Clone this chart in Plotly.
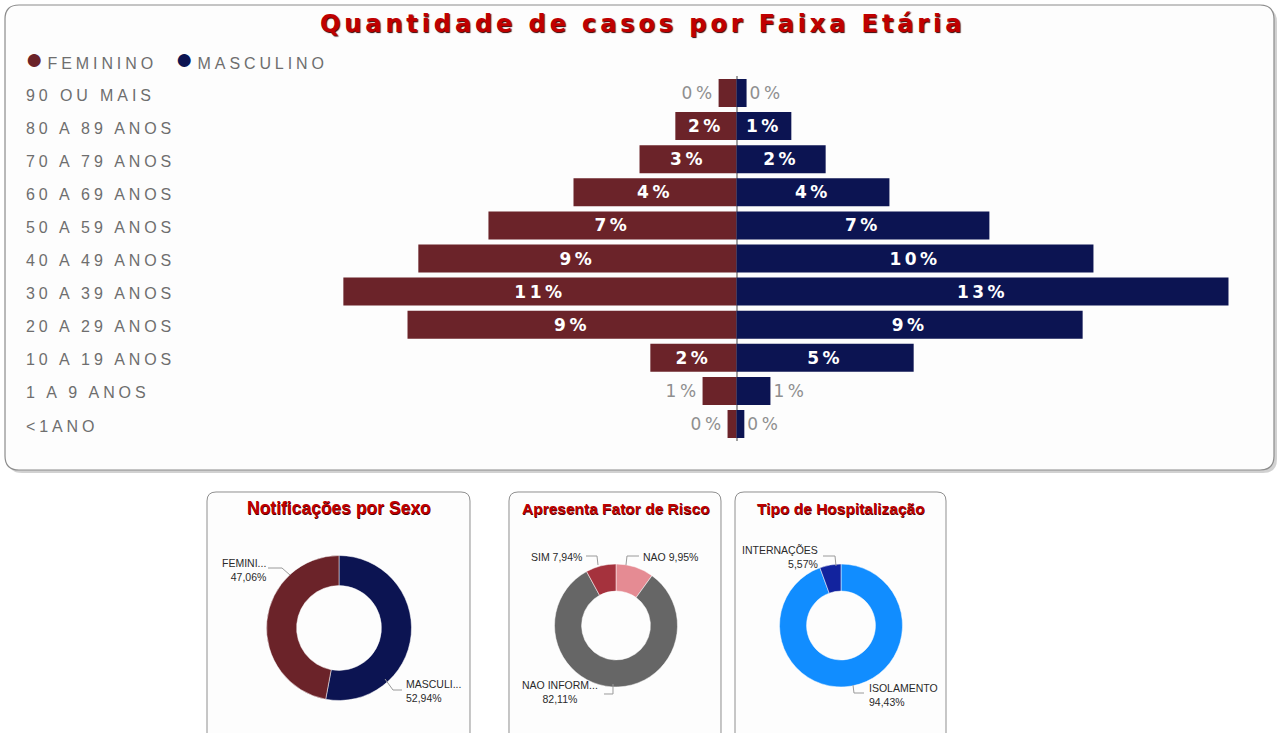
import plotly.graph_objects as go

W, H = 1277, 733

# ---------------- data ----------------
faixas = ["90 OU MAIS", "80 A 89 ANOS", "70 A 79 ANOS", "60 A 69 ANOS", "50 A 59 ANOS",
          "40 A 49 ANOS", "30 A 39 ANOS", "20 A 29 ANOS", "10 A 19 ANOS", "1 A 9 ANOS", "<1ANO"]
feminino = [0.48, 1.64, 2.60, 4.37, 6.65, 8.53, 10.54, 8.82, 2.31, 0.91, 0.24]
masculino = [0.27, 1.47, 2.39, 4.10, 6.78, 9.57, 13.19, 9.28, 4.75, 0.91, 0.21]

sexo_labels = ["MASCULINO", "FEMININO"]
sexo_display = ["MASCULI...", "FEMINI..."]
sexo_values = [52.94, 47.06]

risco_labels = ["NAO", "NAO INFORMADO", "SIM"]
risco_display = ["NAO", "NAO INFORM...", "SIM"]
risco_values = [9.95, 82.11, 7.94]

hosp_labels = ["ISOLAMENTO", "INTERNAÇÕES"]
hosp_display = ["ISOLAMENTO", "INTERNAÇÕES"]
hosp_values = [94.43, 5.57]

# ---------------- style ----------------
C_FEM = "#6b2329"
C_MAS = "#0c1452"
C_TITLE = "#c00000"
LBL = "#6e6e6e"


def px(x):
    return x / W


def py(y):
    return 1 - y / H


def P(x, y):
    return f"{px(x):.5f},{py(y):.5f}"


def rrect(x0, y0, x1, y1, r):
    return (f"M {P(x0 + r, y0)} L {P(x1 - r, y0)} Q {P(x1, y0)} {P(x1, y0 + r)} "
            f"L {P(x1, y1 - r)} Q {P(x1, y1)} {P(x1 - r, y1)} L {P(x0 + r, y1)} "
            f"Q {P(x0, y1)} {P(x0, y1 - r)} L {P(x0, y0 + r)} Q {P(x0, y0)} {P(x0 + r, y0)} Z")


def poly(pts):
    return "M " + " L ".join(P(x, y) for x, y in pts)


def sp(txt, ls):
    return f"<span style='letter-spacing:{ls}px'>{txt}</span>"


def pct(v):
    return f"{v:.2f}".replace(".", ",") + "%"


fig = go.Figure()

# ---------------- pyramid ----------------
THR = 1.4


def bar_text(vals):
    out = []
    for v in vals:
        t = sp(f"{round(v)}%", 3.5)
        out.append(f"<b>{t}</b>" if v >= THR else t)
    return out


def bar_pos(vals):
    return ["inside" if v >= THR else "outside" for v in vals]


for vals, sign, col, name in [(feminino, -1, C_FEM, "FEMININO"), (masculino, 1, C_MAS, "MASCULINO")]:
    fig.add_trace(go.Bar(
        y=faixas, x=[sign * v for v in vals], orientation="h", name=name,
        marker=dict(color=col, line=dict(width=0)),
        text=bar_text(vals), textposition=bar_pos(vals),
        insidetextanchor="middle", textangle=0, cliponaxis=False,
        insidetextfont=dict(color="white", size=17, family="DejaVu Sans"),
        outsidetextfont=dict(color="#8f8f8f", size=17, family="DejaVu Sans"),
        hoverinfo="skip"))

SCALE = 37.3
X0, XL, XR = 736.5, 20, 1257
Y_TOP, Y_BOT = 76.45, 440.55

# ---------------- donuts ----------------
def dom(cx, cy, r):
    return dict(x=[px(cx - r), px(cx + r)], y=[py(cy + r), py(cy - r)])


fig.add_trace(go.Pie(labels=sexo_labels, values=sexo_values, hole=0.585, sort=False,
                     direction="clockwise", rotation=0, textinfo="none",
                     marker=dict(colors=[C_MAS, C_FEM], line=dict(color="white", width=0.5)),
                     domain=dom(339, 628, 72.5), hoverinfo="skip"))
fig.add_trace(go.Pie(labels=risco_labels, values=risco_values, hole=0.56, sort=False,
                     direction="clockwise", rotation=0, textinfo="none",
                     marker=dict(colors=["#e58b93", "#666666", "#a5323d"], line=dict(color="white", width=0.5)),
                     domain=dom(616, 625.5, 61.5), hoverinfo="skip"))
fig.add_trace(go.Pie(labels=hosp_labels, values=hosp_values, hole=0.56, sort=False,
                     direction="clockwise", rotation=0, textinfo="none",
                     marker=dict(colors=["#118dff", "#12239e"], line=dict(color="white", width=0.5)),
                     domain=dom(841, 625.5, 61.5), hoverinfo="skip"))

# ---------------- shapes ----------------
shapes = []
shapes.append(dict(type="path", xref="paper", yref="paper", layer="below",
                   path=rrect(8, 8, 1277, 473, 14), fillcolor="rgba(0,0,0,0.18)", line=dict(width=0)))
shapes.append(dict(type="path", xref="paper", yref="paper", layer="below",
                   path=rrect(5, 5, 1274, 470, 14), fillcolor="#fdfdfd", line=dict(color="#8c8c8c", width=1.2)))
for x0, x1 in [(207, 470), (509, 721), (735, 946)]:
    shapes.append(dict(type="path", xref="paper", yref="paper", layer="below",
                       path=rrect(x0, 492, x1, 760, 9), fillcolor="#fdfdfd", line=dict(color="#8f8f8f", width=1)))
leaders = [
    [(268, 568), (282, 568), (290, 575)],
    [(385, 679), (393, 690), (402, 690)],
    [(586, 556), (597, 556), (598, 565)],
    [(626, 565), (627, 556), (639, 556)],
    [(604, 694), (613, 694), (613, 684)],
    [(823, 556), (835, 556), (836, 566)],
    [(853, 685), (854, 693), (864, 693)],
]
for pts in leaders:
    shapes.append(dict(type="path", xref="paper", yref="paper", path=poly(pts),
                       line=dict(color="#9a9a9a", width=1)))

# ---------------- annotations ----------------
ann = []
ann.append(dict(xref="paper", yref="paper", x=px(642.5), y=py(24), xanchor="center", yanchor="middle",
                showarrow=False, text="<b>" + sp("Quantidade de casos por Faixa Etária", 3.9) + "</b>",
                font=dict(family="DejaVu Sans", size=24, color=C_TITLE, shadow="1px 1px 1px #3a0000")))
# legend
for x0, col, name in [(23, C_FEM, "FEMININO"), (173, C_MAS, "MASCULINO")]:
    ann.append(dict(xref="paper", yref="paper", x=px(x0), y=py(58), xanchor="left", yanchor="middle",
                    showarrow=False,
                    text=f"<span style='color:{col};font-size:30px'>●</span> " + sp(name, 3.9),
                    font=dict(family="Liberation Sans", size=16, color=LBL)))
# category labels
for f in faixas:
    ann.append(dict(xref="paper", yref="y", x=px(24), y=f, xanchor="left", yanchor="middle", yshift=-2,
                    showarrow=False, text=sp(f, 3.9),
                    font=dict(family="Liberation Sans", size=16, color=LBL)))
# card titles
for cx, t, fs in [(339.5, "Notificações por Sexo", 17.5), (616, "Apresenta Fator de Risco", 15.5),
                  (841, "Tipo de Hospitalização", 15.5)]:
    ann.append(dict(xref="paper", yref="paper", x=px(cx), y=py(508), xanchor="center", yanchor="middle",
                    showarrow=False, text=f"<b>{t}</b>",
                    font=dict(family="Liberation Sans", size=fs, color=C_TITLE, shadow="0.5px 0.5px 0.5px #500000")))
# donut labels
dl = dict(family="Liberation Sans", size=10.5, color="#2a2a2a")
ann.append(dict(xref="paper", yref="paper", x=px(268), y=py(569.5), xanchor="right", yanchor="middle", align="right",
                showarrow=False, text=f"{sexo_display[1]}<br>{pct(sexo_values[1])}", font=dl))
ann.append(dict(xref="paper", yref="paper", x=px(404), y=py(690.5), xanchor="left", yanchor="middle", align="left",
                showarrow=False, text=f"{sexo_display[0]}<br>{pct(sexo_values[0])}", font=dl))
ann.append(dict(xref="paper", yref="paper", x=px(584), y=py(557), xanchor="right", yanchor="middle",
                showarrow=False, text=f"{risco_display[2]} {pct(risco_values[2])}", font=dl))
ann.append(dict(xref="paper", yref="paper", x=px(641), y=py(557), xanchor="left", yanchor="middle",
                showarrow=False, text=f"{risco_display[0]} {pct(risco_values[0])}", font=dl))
ann.append(dict(xref="paper", yref="paper", x=px(560), y=py(692), xanchor="center", yanchor="middle", align="center",
                showarrow=False, text=f"{risco_display[1]}<br>{pct(risco_values[1])}", font=dl))
ann.append(dict(xref="paper", yref="paper", x=px(820), y=py(557), xanchor="right", yanchor="middle", align="right",
                showarrow=False, text=f"{hosp_display[1]}<br>{pct(hosp_values[1])}", font=dl))
ann.append(dict(xref="paper", yref="paper", x=px(867), y=py(695), xanchor="left", yanchor="middle", align="left",
                showarrow=False, text=f"{hosp_display[0]}<br>{pct(hosp_values[0])}", font=dl))

fig.update_layout(
    width=W, height=H, margin=dict(l=0, r=0, t=0, b=0),
    paper_bgcolor="white", plot_bgcolor="rgba(0,0,0,0)",
    showlegend=False, barmode="relative", bargap=0.154,
    xaxis=dict(domain=[px(XL), px(XR)], range=[-(X0 - XL) / SCALE, (XR - X0) / SCALE],
               showgrid=False, showticklabels=False, zeroline=True, zerolinecolor="#a0a0a0",
               zerolinewidth=1.5, fixedrange=True),
    yaxis=dict(domain=[py(Y_BOT), py(Y_TOP)], categoryorder="array", categoryarray=faixas,
               autorange="reversed", showgrid=False, showticklabels=False, zeroline=False, fixedrange=True),
    shapes=shapes, annotations=ann,
    font=dict(family="Liberation Sans"),
)

fig.write_html("out.html", config={"displayModeBar": False},
               post_script="document.body.style.margin='0';document.body.style.overflow='hidden';")
